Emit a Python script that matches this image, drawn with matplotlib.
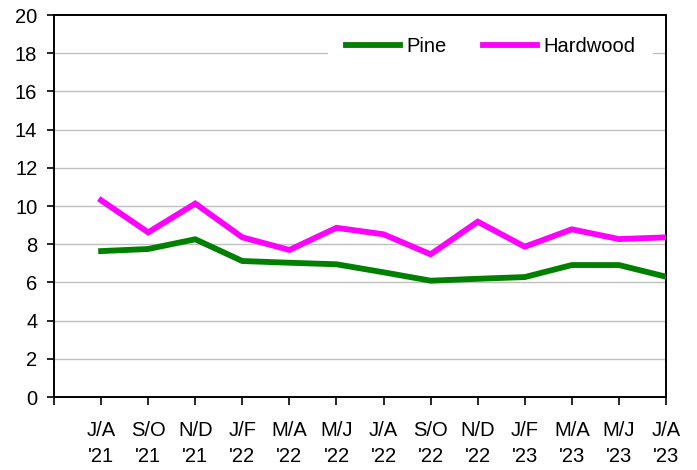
import numpy as np
import matplotlib
matplotlib.use("Agg")
import matplotlib.pyplot as plt

plt.rcParams['font.family'] = ['Liberation Sans', 'DejaVu Sans']

# bi-monthly periods
periods = ["J/A\n'21", "S/O\n'21", "N/D\n'21", "J/F\n'22", "M/A\n'22", "M/J\n'22",
           "J/A\n'22", "S/O\n'22", "N/D\n'22", "J/F\n'23", "M/A\n'23", "M/J\n'23",
           "J/A\n'23"]

pine = [7.64, 7.75, 8.26, 7.12, 7.03, 6.95, 6.53, 6.09, 6.19, 6.28, 6.91, 6.91, 6.30]
hardwood = [10.3, 8.62, 10.13, 8.36, 7.70, 8.86, 8.52, 7.47, 9.18, 7.87, 8.78, 8.27, 8.36]

x = np.arange(len(periods))

fig = plt.figure(figsize=(6.97, 4.70), dpi=100)
ax = fig.add_axes([0.0775, 0.1553, 0.878, 0.8127])

# horizontal grid lines
for yv in range(2, 20, 2):
    ax.axhline(yv, color='#c0c0c0', linewidth=1.0, zorder=1)

ax.plot(x, pine, color='#008000', linewidth=4.2, label='Pine', zorder=3,
        solid_joinstyle='miter')
ax.plot(x, hardwood, color='#ff00ff', linewidth=4.2, label='Hardwood', zorder=3,
        solid_joinstyle='miter')

ax.set_xlim(-1, len(periods) - 1)
ax.set_ylim(0, 20)
ax.set_yticks(range(0, 21, 2))
ax.set_xticks(np.arange(-1, len(periods)))
ax.set_xticklabels([''] + periods, linespacing=1.5)

ax.tick_params(axis='both', direction='out', labelsize=14.5, color='black',
               width=1.2)
ax.tick_params(axis='x', length=6, pad=11)
ax.tick_params(axis='y', length=5, pad=7)

for s in ax.spines.values():
    s.set_linewidth(1.4)
    s.set_color('black')

leg = ax.legend(loc='center', bbox_to_anchor=(0.713, 0.917), ncol=2,
                fontsize=14.5, handlelength=2.7, handletextpad=0.3,
                columnspacing=1.8, borderpad=0.9, frameon=True,
                fancybox=False, framealpha=1.0)
leg.get_frame().set_edgecolor('none')
leg.get_frame().set_facecolor('white')

fig.savefig('out.png', dpi=100)
